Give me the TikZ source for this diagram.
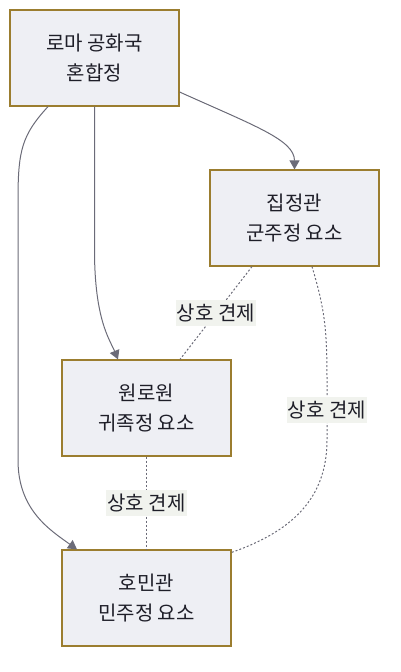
\documentclass[tikz,border=0pt]{standalone}
\usepackage{fontspec}
\setmainfont{Noto Sans CJK KR}
\usetikzlibrary{arrows.meta}
\definecolor{boxfill}{HTML}{EEEFF4}
\definecolor{boxdraw}{HTML}{9B7D2F}
\definecolor{linecol}{HTML}{6B6B78}
\definecolor{lblbg}{HTML}{F1F3EE}
\definecolor{txtcol}{HTML}{1E1E28}
\begin{document}
\begin{tikzpicture}[x=1pt,y=-1pt,
  boxnode/.style={draw=boxdraw,fill=boxfill,line width=1.2pt,minimum width=169pt,minimum height=96pt,inner sep=0pt,align=center,text=txtcol,font=\fontsize{20}{30}\selectfont},
  flow/.style={draw=linecol,line width=1pt,-{Triangle[length=9pt,width=10pt]}},
  check/.style={draw=linecol,line width=1pt,dash pattern=on 2pt off 2pt},
  lbl/.style={fill=lblbg,text=txtcol,inner xsep=1pt,inner ysep=4pt,font=\fontsize{20}{22}\selectfont}]
\useasboundingbox (0,0) rectangle (400,672);
\node[boxnode] (A) at (94.5,58) {로마 공화국\\혼합정};
\node[boxnode] (B) at (294.5,218) {집정관\\군주정 요소};
\node[boxnode] (C) at (146.5,408) {원로원\\귀족정 요소};
\node[boxnode] (D) at (146.5,598) {호민관\\민주정 요소};
% flows
\draw[flow] ([yshift=-34pt]A.east) .. controls (255,126) and (294.5,140) .. (B.north);
\draw[flow] (A.south) -- (94.5,250) .. controls (94.5,320) and (110,340) .. ([xshift=-28.5pt]C.north);
\draw[flow] ([xshift=-46.5pt]A.south) .. controls (22,135) and (18,150) .. (18,200) -- (18,460) .. controls (18,510) and (50,530) .. ([xshift=-69.5pt]D.north);
% checks
\draw[check] ([xshift=-42.5pt]B.south) -- node[lbl]{상호 견제} ([xshift=33.5pt]C.north);
\draw[check] ([xshift=17.5pt]B.south) .. controls (325,310) and (327,330) .. (327,380) -- node[lbl,pos=0.5]{상호 견제} (327,440) .. controls (327,500) and (290,532) .. ([yshift=-3pt]D.north east);
\draw[check] (C.south) -- node[lbl]{상호 견제} (D.north);
\end{tikzpicture}
\end{document}
